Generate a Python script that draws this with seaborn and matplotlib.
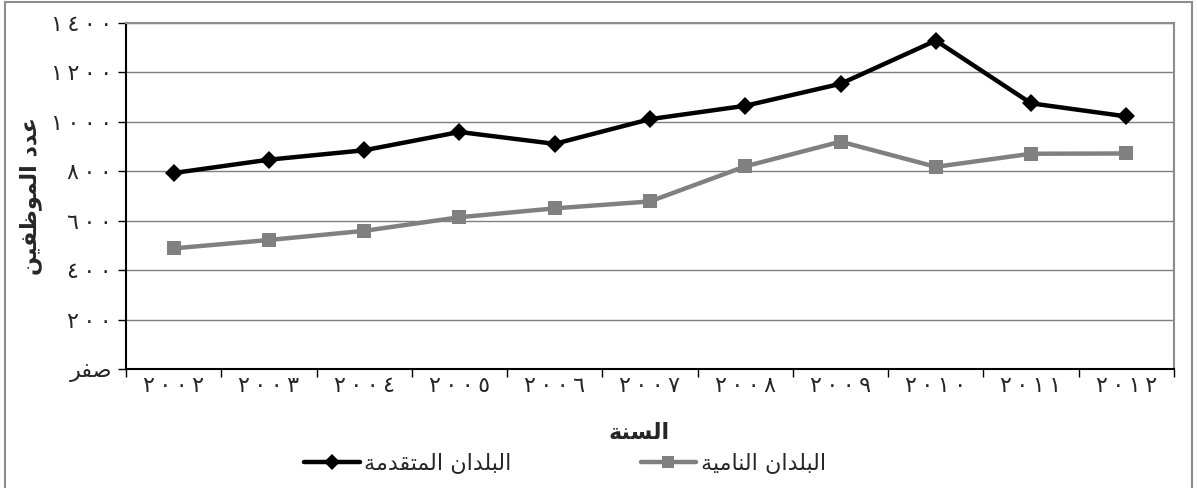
import matplotlib
matplotlib.use("Agg")
import matplotlib.pyplot as plt
from matplotlib.patches import Rectangle
from matplotlib.lines import Line2D
import numpy as np
import pandas as pd
import seaborn as sns

# ---- data -------------------------------------------------------------
years = ["٢٠٠٢", "٢٠٠٣", "٢٠٠٤", "٢٠٠٥", "٢٠٠٦", "٢٠٠٧",
         "٢٠٠٨", "٢٠٠٩", "٢٠١٠", "٢٠١١", "٢٠١٢"]
advanced = [793, 847, 885, 959, 911, 1011, 1065, 1154, 1329, 1075, 1022]
developing = [488, 522, 559, 614, 650, 678, 820, 920, 818, 871, 872]
series_names = ["البلدان المتقدمة", "البلدان النامية"]
y_ticks = [0, 200, 400, 600, 800, 1000, 1200, 1400]
y_tick_labels = ["صفر", "٢٠٠", "٤٠٠", "٦٠٠", "٨٠٠", "١٠٠٠", "١٢٠٠", "١٤٠٠"]
x_title = "السنة"
y_title = "عدد الموظفين"

# ---- minimal Arabic shaping (presentation forms + visual order) --------
# letter: (isolated, final, initial, medial); None = does not join forward
FORMS = {
    "ا": ("\uFE8D", "\uFE8E", None, None),
    "ب": ("\uFE8F", "\uFE90", "\uFE91", "\uFE92"),
    "ة": ("\uFE93", "\uFE94", None, None),
    "ت": ("\uFE95", "\uFE96", "\uFE97", "\uFE98"),
    "د": ("\uFEA9", "\uFEAA", None, None),
    "ر": ("\uFEAD", "\uFEAE", None, None),
    "س": ("\uFEB1", "\uFEB2", "\uFEB3", "\uFEB4"),
    "ص": ("\uFEB9", "\uFEBA", "\uFEBB", "\uFEBC"),
    "ظ": ("\uFEC5", "\uFEC6", "\uFEC7", "\uFEC8"),
    "ع": ("\uFEC9", "\uFECA", "\uFECB", "\uFECC"),
    "ف": ("\uFED1", "\uFED2", "\uFED3", "\uFED4"),
    "ق": ("\uFED5", "\uFED6", "\uFED7", "\uFED8"),
    "ل": ("\uFEDD", "\uFEDE", "\uFEDF", "\uFEE0"),
    "م": ("\uFEE1", "\uFEE2", "\uFEE3", "\uFEE4"),
    "ن": ("\uFEE5", "\uFEE6", "\uFEE7", "\uFEE8"),
    "و": ("\uFEED", "\uFEEE", None, None),
    "ي": ("\uFEF1", "\uFEF2", "\uFEF3", "\uFEF4"),
}


def shape(text):
    chars = list(text)
    out = []
    for i, c in enumerate(chars):
        if c not in FORMS:
            out.append(c)
            continue
        iso, fin, ini, med = FORMS[c]
        prev = chars[i - 1] if i > 0 else None
        nxt = chars[i + 1] if i + 1 < len(chars) else None
        join_prev = prev in FORMS and FORMS[prev][2] is not None
        join_next = ini is not None and nxt in FORMS
        if join_prev and join_next:
            out.append(med)
        elif join_prev:
            out.append(fin)
        elif join_next:
            out.append(ini)
        else:
            out.append(iso)
    if any(c in FORMS for c in chars):
        return "".join(reversed(out))
    return "".join(out)


def spaced(num):
    # Arabic-Indic numerals drawn with a little air between the digits
    return "\u2009".join(num)


def label(t):
    return shape(t) if any(c in FORMS for c in t) else spaced(t)


# ---- figure -----------------------------------------------------------
sns.set_theme(style="white")
plt.rcParams["font.family"] = ["DejaVu Sans"]

W, H = 1197, 488
fig = plt.figure(figsize=(W / 100, H / 100), dpi=100)
ax = fig.add_axes([126 / W, 1 - 369 / H, (1174 - 126) / W, (369 - 23) / H])

df = pd.DataFrame({
    "pos": list(range(len(years))) * 2,
    "value": advanced + developing,
    "series": [series_names[0]] * len(years) + [series_names[1]] * len(years),
})

palette = {series_names[0]: "#000000", series_names[1]: "#808080"}
markers = {series_names[0]: "D", series_names[1]: "s"}
sizes = {series_names[0]: 9, series_names[1]: 10}

for name in series_names:
    sub = df[df["series"] == name]
    sns.lineplot(data=sub, x="pos", y="value", ax=ax, color=palette[name],
                 linewidth=3.2, marker=markers[name], markersize=sizes[name],
                 markeredgewidth=0, legend=False, zorder=3)

ax.set_xlim(-0.5, len(years) - 0.5)
ax.set_ylim(0, 1400)

# horizontal gridlines
ax.set_yticks(y_ticks)
ax.set_yticklabels([label(t) for t in y_tick_labels], fontsize=16)
ax.yaxis.grid(True, color="#7f7f7f", linewidth=1.0)
ax.xaxis.grid(False)
ax.set_axisbelow(True)

# category labels centred, tick marks on category boundaries
ax.set_xticks(range(len(years)))
ax.set_xticklabels([label(y) for y in years], fontsize=16)
ax.set_xticks(np.arange(-0.5, len(years), 1.0), minor=True)
ax.tick_params(axis="x", which="major", length=0, pad=5)
ax.tick_params(axis="x", which="minor", length=6, width=1, color="black",
               direction="out", bottom=True)
ax.tick_params(axis="y", length=6, width=1, color="black", direction="out",
               left=True, pad=4)

for side in ("left", "bottom"):
    ax.spines[side].set_color("black")
    ax.spines[side].set_linewidth(1.5)
for side in ("top", "right"):
    ax.spines[side].set_color("#8c8c8c")
    ax.spines[side].set_linewidth(1.5)

ax.set_xlabel(shape(x_title), fontsize=16, fontweight="bold")
ax.xaxis.set_label_coords(0.49, -0.155)
ax.set_ylabel(shape(y_title), fontsize=16, fontweight="bold")
ax.yaxis.set_label_coords(-0.08, 0.5)

# legend below the axis title
handles = [
    Line2D([], [], color=palette[n], linewidth=3.2, marker=markers[n],
           markersize=sizes[n] * 0.85, markeredgewidth=0)
    for n in series_names
]
fig.legend(handles, [shape(n) for n in series_names], ncol=2,
           loc="center", bbox_to_anchor=(565 / W, 1 - 463 / H),
           frameon=False, fontsize=16, handlelength=2.5, handletextpad=0.2,
           columnspacing=5.8)

# outer chart border
fig.patches.append(Rectangle((5 / W, -0.02), (1192 - 5) / W, 1.02 - 2 / H,
                             transform=fig.transFigure, fill=False,
                             edgecolor="#8c8c8c", linewidth=1.5))

fig.savefig("out.png", dpi=100)
